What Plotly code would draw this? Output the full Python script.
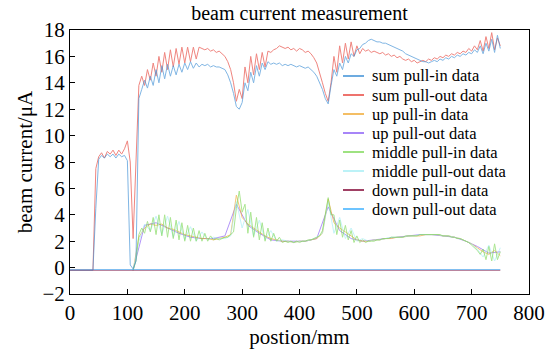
import plotly.graph_objects as go

# ---------------- data ----------------
pos_a = list(range(0, 755, 5))          # grid for sum series (mm)
pos_b = list(range(110, 755, 5))        # grid for middle pull-in
pos_c = list(range(110, 755, 10))       # grid for middle pull-out / up pull-in
pos_d = list(range(110, 755, 20))       # grid for up pull-out
pos_e = list(range(0, 755, 25))         # grid for down series

sum_pull_in = [
    -0.2, -0.2, -0.2, -0.2, -0.2, -0.2, -0.2, -0.2, -0.2,
    4.5, 8.2, 8.5, 8.3, 8.6, 8.4, 8.6, 8.3, 8.6, 8.4, 8.5, 8.1, 0.2, -0.1, 0.5,
    12.8, 13.5, 14.2, 13.6, 14.5, 13.8, 15.0, 14.0, 15.3, 14.3, 15.4, 14.5,
    15.3, 14.6, 15.4, 14.8, 15.5, 15.0, 15.6, 15.1, 15.5, 15.2, 15.4, 15.3,
    15.4, 15.2, 15.3, 15.2, 15.2, 15.1, 15.0, 14.6, 14.0, 13.2, 12.2, 12.0,
    12.5, 14.0, 13.4, 14.8, 14.0, 15.3, 14.5, 15.5, 15.0, 15.6, 15.4, 15.5,
    15.4, 15.5, 15.3, 15.4, 15.3, 15.4, 15.3, 15.2, 15.3, 15.2, 15.1, 15.2,
    15.0, 14.8, 14.5, 14.0, 13.5, 12.8, 12.4, 13.8, 15.0, 14.5, 15.5, 15.0,
    16.0, 15.5, 16.2, 16.0, 16.5, 16.6, 16.9, 17.0, 17.2, 17.3, 17.2, 17.1,
    17.1, 17.0, 17.0, 16.9, 16.8, 16.7, 16.6, 16.5, 16.4, 16.2, 16.1, 16.0,
    15.9, 15.8, 15.7, 15.6, 15.6, 15.5, 15.6, 15.7, 15.6, 15.8, 15.7, 15.9,
    15.8, 16.0, 15.9, 16.1, 16.0, 16.2, 16.1, 16.3, 16.2, 16.5, 16.3, 16.8,
    16.2, 17.0, 16.4, 17.3, 16.3, 17.6, 16.6,
]

sum_pull_out = [
    -0.2, -0.2, -0.2, -0.2, -0.2, -0.2, -0.2, -0.2, -0.2,
    7.5, 8.4, 8.7, 8.3, 8.8, 8.6, 8.9, 8.5, 8.9, 8.6, 9.0, 9.6, 8.0, 2.2, 8.0,
    13.8, 14.5, 13.8, 15.0, 14.2, 15.5, 14.5, 16.0, 14.8, 16.3, 15.0, 16.5,
    15.2, 16.6, 15.4, 16.7, 15.5, 16.7, 15.6, 16.7, 15.8, 16.7, 16.6, 16.5,
    16.6, 16.4, 16.5, 16.3, 16.4, 16.2, 16.0, 15.6, 15.0, 14.0, 12.6, 13.5,
    12.8, 15.2, 14.0, 16.0, 14.6, 16.2, 15.0, 16.3, 15.2, 16.4, 16.3, 16.5,
    16.6, 16.8, 16.7, 16.6, 16.7, 16.5, 16.6, 16.4, 16.6, 16.5, 16.3, 16.4,
    16.2, 15.9, 15.5, 14.8, 14.0, 13.2, 12.6, 14.0, 16.0, 14.8, 16.8, 15.5,
    17.0, 15.8, 17.1, 16.0, 16.8, 16.2, 16.6, 16.4, 16.5, 16.3, 16.4, 16.3,
    16.2, 16.3, 16.1, 16.2, 16.0, 16.1, 15.9, 16.0, 15.8, 15.7, 15.8, 15.6,
    15.7, 15.5, 15.6, 15.7, 15.6, 15.8, 15.7, 15.9, 15.8, 16.0, 15.9, 16.1,
    16.0, 16.2, 16.1, 16.3, 16.2, 16.4, 16.3, 16.6, 16.4, 16.8, 16.5, 17.2,
    16.4, 17.5, 16.6, 17.8, 16.5, 17.4, 16.8,
]

middle_pull_in = [
    -0.2, 0.5, 2.5, 3.0, 2.6, 3.5, 2.7, 3.8, 2.5, 4.0, 2.4, 4.0, 2.3, 3.8,
    2.2, 3.6, 2.1, 3.4, 2.0, 3.2, 2.0, 3.0, 2.0, 2.8, 2.0, 2.6, 2.0, 2.4,
    2.1, 2.2, 2.1, 2.2, 2.3, 2.3, 2.5, 2.7, 4.5, 5.8, 4.2, 4.8, 2.6, 4.2,
    2.3, 3.8, 2.1, 3.4, 2.0, 3.0, 2.0, 2.6, 2.0, 2.3, 1.9, 2.0, 1.9, 2.0,
    1.9, 2.0, 1.9, 2.0, 2.0, 2.1, 2.1, 2.2, 2.3, 2.4, 2.8, 4.0, 5.3, 4.0,
    4.0, 2.5, 3.6, 2.3, 3.2, 2.1, 2.8, 1.9, 2.4, 1.9, 2.1, 1.9, 2.0, 2.0,
    2.0, 2.1, 2.1, 2.2, 2.2, 2.2, 2.3, 2.3, 2.3, 2.3, 2.3, 2.4, 2.4, 2.4,
    2.4, 2.4, 2.5, 2.5, 2.5, 2.5, 2.5, 2.5, 2.5, 2.5, 2.4, 2.4, 2.4, 2.3,
    2.3, 2.2, 2.2, 2.1, 2.0, 1.9, 1.7, 1.5, 1.3, 1.0, 1.4, 0.6, 1.6, 0.5,
    1.8, 0.6, 1.2,
]

middle_pull_out = [
    -0.2, 2.0, 3.3, 2.8, 3.9, 2.5, 3.9, 2.3, 3.5, 2.1, 3.1, 2.0, 2.7, 2.1,
    2.3, 2.2, 2.2, 2.4, 5.0, 3.0, 4.4, 2.4, 3.6, 2.1, 2.8, 2.0, 2.1, 2.0,
    1.9, 2.0, 2.0, 2.1, 2.3, 2.6, 5.0, 2.6, 3.8, 2.2, 3.0, 2.0, 2.2, 2.0,
    2.1, 2.1, 2.2, 2.3, 2.3, 2.3, 2.4, 2.4, 2.5, 2.5, 2.5, 2.5, 2.4, 2.4,
    2.3, 2.2, 2.0, 1.8, 1.4, 0.8, 1.7, 0.5, 1.5,
]

up_pull_in = [
    -0.2, 2.3, 3.0, 3.3, 3.2, 3.3, 3.0, 2.9, 2.7, 2.5, 2.4, 2.3, 2.2, 2.2,
    2.1, 2.2, 2.3, 2.5, 5.5, 3.8, 3.3, 3.0, 2.7, 2.4, 2.2, 2.1, 2.0, 2.0,
    1.9, 2.0, 2.0, 2.1, 2.2, 2.6, 5.2, 3.4, 3.0, 2.7, 2.4, 2.1, 2.0, 2.0,
    2.1, 2.1, 2.2, 2.2, 2.3, 2.3, 2.4, 2.4, 2.4, 2.5, 2.5, 2.5, 2.4, 2.4,
    2.3, 2.2, 2.0, 1.8, 1.5, 1.2, 1.0, 1.3, 0.9,
]

up_pull_out = [
    -0.2, 3.2, 3.4, 3.0, 2.6, 2.3, 2.2, 2.2, 2.4, 4.8, 3.2, 2.6, 2.1, 2.0,
    2.0, 2.0, 2.2, 4.6, 2.8, 2.2, 2.0, 2.1, 2.2, 2.3, 2.4, 2.5, 2.5, 2.4,
    2.3, 2.0, 1.6, 1.1, 1.2,
]

down_pull_in = [
    -0.2, -0.2, -0.2, -0.2, -0.2, -0.2, -0.2, -0.25, -0.2, -0.2, -0.2,
    -0.25, -0.2, -0.2, -0.2, -0.2, -0.2, -0.2, -0.25, -0.2, -0.2, -0.2,
    -0.25, -0.2, -0.2, -0.2, -0.25, -0.2, -0.2, -0.2, -0.2,
]

down_pull_out = [
    -0.15, -0.15, -0.15, -0.15, -0.15, -0.15, -0.15, -0.15, -0.15, -0.15,
    -0.15, -0.15, -0.15, -0.15, -0.15, -0.15, -0.15, -0.15, -0.15, -0.15,
    -0.15, -0.15, -0.15, -0.15, -0.15, -0.15, -0.15, -0.15, -0.15, -0.15,
    -0.15,
]

series_names = [
    "sum pull-in data", "sum pull-out data", "up pull-in data", "up pull-out data",
    "middle pull-in data", "middle pull-out data", "down pull-in data", "down pull-out data",
]
series_colors = ["#3d8fd6", "#e8453c", "#f0a830", "#8a5cf6",
                 "#7ed957", "#a6eef5", "#800030", "#3db0ff"]

x_ticks = [0, 100, 200, 300, 400, 500, 600, 700, 800]
y_ticks = [-2, 0, 2, 4, 6, 8, 10, 12, 14, 16, 18]

# ---------------- figure ----------------
FONT = "Liberation Serif, Times New Roman, serif"
series = [
    (pos_a, sum_pull_in), (pos_a, sum_pull_out),
    (pos_c, up_pull_in), (pos_d, up_pull_out),
    (pos_b, middle_pull_in), (pos_c, middle_pull_out),
    (pos_e, down_pull_in), (pos_e, down_pull_out),
]
draw_order = [3, 2, 5, 4, 6, 7, 1, 0]

fig = go.Figure()
for i in draw_order:
    xs, ys = series[i]
    fig.add_trace(go.Scatter(
        x=xs, y=ys, mode="lines", name=series_names[i],
        line=dict(color=series_colors[i], width=1), opacity=0.65,
        showlegend=False,
    ))

W, H = 557, 353
L, R, T, B = 70, 28, 30, 59
PW, PH = W - L - R, H - T - B

def px_to_paper(px, py):
    return (px - L) / PW, (H - B - py) / PH

# hand-built legend (compact line spacing like the original)
leg_x0, leg_x1, leg_tx = 343, 364, 370
leg_y0, leg_dy = 76, 19
for k, name in enumerate(series_names):
    py = leg_y0 + k * leg_dy
    ax0, ay = px_to_paper(leg_x0, py)
    ax1, _ = px_to_paper(leg_x1, py)
    atx, _ = px_to_paper(leg_tx, py)
    fig.add_shape(type="line", xref="paper", yref="paper",
                  x0=ax0, x1=ax1, y0=ay, y1=ay,
                  line=dict(color=series_colors[k], width=1.5))
    fig.add_annotation(xref="paper", yref="paper", x=atx, y=ay,
                       text=name, showarrow=False, xanchor="left", yanchor="middle",
                       font=dict(family=FONT, size=16.5, color="black"))

fig.update_layout(
    width=W, height=H,
    margin=dict(l=L, r=R, t=T, b=B),
    paper_bgcolor="white", plot_bgcolor="white",
    font=dict(family=FONT, size=21, color="black"),
    title=dict(text="beam current measurement", x=(L + PW / 2) / W, xanchor="center",
               y=1 - 13 / H, yanchor="middle", font=dict(family=FONT, size=20)),
    showlegend=False,
)
fig.update_xaxes(
    range=[0, 800], tickvals=x_ticks, ticks="inside", ticklen=5, tickcolor="black",
    showline=True, linecolor="black", linewidth=1, mirror=True, showgrid=False,
    zeroline=False, title=dict(text="postion/mm", font=dict(size=21), standoff=2),
    tickfont=dict(size=21),
)
fig.update_yaxes(
    range=[-2, 18], tickvals=y_ticks, ticks="inside", ticklen=5, tickcolor="black",
    showline=True, linecolor="black", linewidth=1, mirror=True, showgrid=False,
    zeroline=False, title=dict(text="beam current/μA", font=dict(size=21), standoff=4),
    tickfont=dict(size=21),
)

fig.write_html("out.html")
